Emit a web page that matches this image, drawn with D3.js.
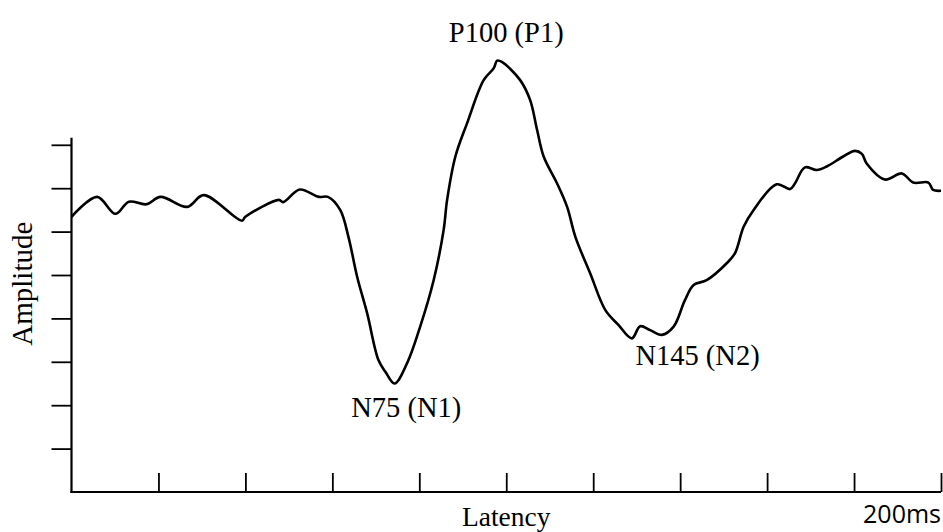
<!DOCTYPE html>
<html>
<head>
<meta charset="utf-8">
<script src="https://cdn.jsdelivr.net/npm/d3@7"></script>
<style>
  html, body { margin: 0; padding: 0; background: #fff; }
  svg { display: block; }
  .serif { font-family: "Liberation Serif", "Times New Roman", serif; fill: #000; }
  .sans { font-family: "Open Sans", "Liberation Sans", sans-serif; fill: #000; }
</style>
</head>
<body>
<svg id="chart" width="943" height="532"></svg>
<script>
// Latency in ms
const latency = [0, 5.9, 10.1, 13.2, 17.2, 20.5, 26.6, 30.4, 39.2, 40.0, 47.7, 48.7, 52.5, 56.9, 59.0,
  61.8, 63.7, 65.7, 68.0, 70.6, 72.2, 74.3, 77.2, 80.2, 83.3, 85.6, 86.4, 88.3, 91.0, 94.8, 97.1, 97.9,
  99.0, 103.2, 105.5, 107.1, 108.6, 111.7, 114.0, 115.9, 119.3, 122.8, 125.8, 128.9, 130.8, 133.1,
  135.8, 138.5, 141.1, 143.1, 146.1, 150.7, 152.6, 154.6, 156.9, 162.2, 165.3, 166.4, 168.7, 171.4,
  173.7, 177.5, 180.2, 181.8, 182.9, 187.1, 191.0, 193.6, 197.1, 198.2, 200];
// Amplitude (arbitrary units, one unit per tick)
const amplitude = [6.34, 6.80, 6.41, 6.69, 6.63, 6.80, 6.57, 6.84, 6.25, 6.34, 6.73, 6.68, 6.97, 6.80, 6.80,
  6.50, 5.88, 4.96, 4.12, 3.04, 2.77, 2.50, 2.97, 3.81, 4.88, 6.04, 6.73, 7.73, 8.50, 9.49, 9.76, 9.94,
  9.91, 9.49, 9.03, 8.34, 7.73, 7.11, 6.57, 5.88, 5.04, 4.19, 3.85, 3.54, 3.82, 3.73,
  3.62, 3.81, 4.42, 4.77, 4.88, 5.27, 5.50, 6.11, 6.50, 7.09, 6.98, 7.11, 7.48, 7.42,
  7.50, 7.73, 7.86, 7.79, 7.57, 7.20, 7.34, 7.13, 7.13, 6.96, 6.94];

const xTicks = [20, 40, 60, 80, 100, 120, 140, 160, 180, 200];
const yTicks = [1, 2, 3, 4, 5, 6, 7, 8];

const peaks = [
  { label: "P100 (P1)", t: 100, a: 10.38 },
  { label: "N75 (N1)", t: 77, a: 1.72 },
  { label: "N145 (N2)", t: 144, a: 2.92 }
];

const data = latency.map((t, i) => ({ t, a: amplitude[i] }));

const svg = d3.select("#chart");
const left = 71.5, right = 941, bottom = 492;
const x = d3.scaleLinear().domain([0, 200]).range([left, right]);
const y = d3.scaleLinear().domain([0, 8]).range([bottom, bottom - 8 * 43.4]);

// y ticks
const yAxis = svg.append("g")
  .attr("transform", `translate(${left},0)`)
  .call(d3.axisLeft(y).tickValues(yTicks).tickSize(20).tickFormat(""));
yAxis.select(".domain").remove();
yAxis.selectAll(".tick line").attr("stroke", "#000").attr("stroke-width", 1.8);

// x ticks (upward)
const xAxis = svg.append("g")
  .attr("transform", `translate(0,${bottom})`)
  .call(d3.axisBottom(x).tickValues(xTicks).tickSize(-19).tickFormat(""));
xAxis.select(".domain").remove();
xAxis.selectAll(".tick line").attr("stroke", "#000").attr("stroke-width", 1.8);

// axis lines
svg.append("line").attr("x1", left).attr("x2", left)
  .attr("y1", y(8.16)).attr("y2", bottom + 1)
  .attr("stroke", "#000").attr("stroke-width", 2.2);
svg.append("line").attr("x1", left - 1).attr("x2", x(200))
  .attr("y1", bottom).attr("y2", bottom)
  .attr("stroke", "#000").attr("stroke-width", 2.2);

// waveform
const line = d3.line().x(d => x(d.t)).y(d => y(d.a)).curve(d3.curveCatmullRom.alpha(0.5));
svg.append("path").datum(data)
  .attr("d", line)
  .attr("fill", "none").attr("stroke", "#000").attr("stroke-width", 2.6)
  .attr("stroke-linejoin", "round");

// peak labels
svg.selectAll(".peak").data(peaks).enter().append("text")
  .attr("class", "serif")
  .attr("x", d => x(d.t)).attr("y", d => y(d.a))
  .attr("text-anchor", "middle")
  .attr("font-size", 28.5)
  .text(d => d.label);

// axis titles
svg.append("text").attr("class", "serif")
  .attr("x", x(100)).attr("y", 526)
  .attr("text-anchor", "middle").attr("font-size", 27.5)
  .text("Latency");
svg.append("text").attr("class", "serif")
  .attr("transform", `translate(32,${y(4.8)}) rotate(-90)`)
  .attr("text-anchor", "middle").attr("font-size", 29)
  .text("Amplitude");
svg.append("text").attr("class", "sans")
  .attr("x", 941).attr("y", 523)
  .attr("text-anchor", "end").attr("font-size", 25)
  .text("200ms");
</script>
</body>
</html>
